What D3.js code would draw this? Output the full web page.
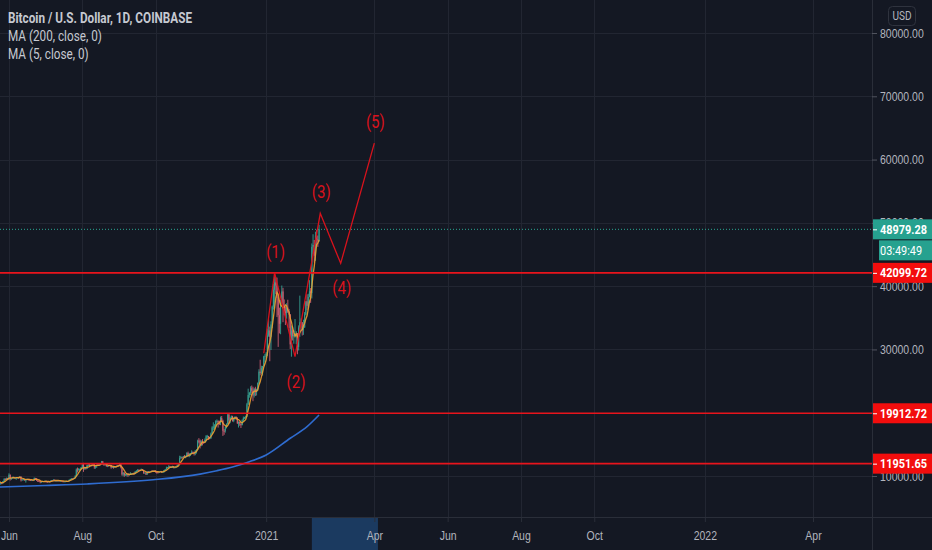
<!DOCTYPE html>
<html>
<head>
<meta charset="utf-8">
<style>
  html, body { margin: 0; padding: 0; background: #141823; overflow: hidden; }
  svg { display: block; font-family: Roboto, 'Open Sans', sans-serif; }
  .grid line { stroke: #222632; stroke-width: 1; }
  .axis text { fill: #b2b5be; font-size: 12.5px; }
  .legend text { fill: #c6c9d1; font-size: 14px; }
</style>
</head>
<body>
<svg id="chart" width="932" height="550"></svg>
<script src="https://d3js.org/d3.v7.min.js"></script>
<script>
// daily candles, values in thousands USD, first day 2020-05-24
const firstDay = "2020-05-24";
const firstOpen = 9.18;
const priorCloses = [9.52, 9.06, 9.17, 9.18];   // May 20-23, for the MA(5) start

const closes = [
  8.72, 8.90, 8.84, 9.20, 9.58, 9.42, 9.70, 9.45,
  10.20, 9.52, 9.67, 9.80, 9.65, 9.76, 9.78, 9.78, 9.77, 9.88, 9.32, 9.47, 9.48, 9.39, 9.45, 9.54, 9.46, 9.40, 9.31, 9.36, 9.29, 9.69, 9.63, 9.30, 9.25, 9.16, 9.00, 9.11, 9.19, 9.14,
  9.23, 9.09, 9.07, 9.13, 9.07, 9.34, 9.25, 9.43, 9.24, 9.28, 9.23, 9.30, 9.24, 9.25, 9.20, 9.13, 9.15, 9.17, 9.21, 9.16, 9.39, 9.54, 9.61, 9.55, 9.71, 9.93, 11.03, 10.92, 11.10, 11.11, 11.35,
  11.80, 11.07, 11.23, 11.19, 11.75, 11.77, 11.60, 11.75, 11.68, 11.88, 11.39, 11.56, 11.78, 11.77, 11.86, 11.91, 12.30, 11.95, 11.75, 11.86, 11.52, 11.66, 11.65, 11.75, 11.33, 11.46, 11.32, 11.54, 11.50, 11.71, 11.68,
  11.97, 11.41, 10.25, 10.51, 10.17, 10.28, 10.37, 10.13, 10.24, 10.36, 10.40, 10.44, 10.33, 10.68, 10.79, 10.96, 10.95, 10.94, 11.09, 10.92, 10.42, 10.54, 10.24, 10.74, 10.69, 10.73, 10.77, 10.71, 10.84, 10.78,
  10.62, 10.57, 10.55, 10.67, 10.79, 10.60, 10.67, 10.92, 11.06, 11.30, 11.38, 11.54, 11.43, 11.43, 11.50, 11.32, 11.36, 11.50, 11.74, 11.92, 12.82, 12.97, 12.93, 13.11, 13.03, 13.07, 13.64, 13.27, 13.46, 13.56, 13.80,
  13.76, 13.55, 14.02, 14.14, 15.59, 15.58, 14.83, 15.48, 15.33, 15.31, 15.70, 16.28, 16.32, 16.07, 15.96, 16.72, 17.66, 17.80, 17.82, 18.67, 18.71, 18.42, 18.37, 19.16, 18.73, 17.15, 17.14, 17.72, 18.18, 19.70,
  18.79, 19.20, 19.45, 18.70, 19.15, 19.36, 19.17, 18.32, 18.55, 18.26, 18.04, 18.81, 19.17, 19.27, 19.43, 21.33, 22.80, 23.14, 23.87, 23.47, 22.72, 23.81, 23.23, 23.73, 24.71, 26.49, 26.28, 27.08, 27.36, 28.90, 29.00,
  29.37, 32.20, 33.00, 31.99, 33.95, 36.77, 39.43, 40.58, 40.09, 38.15, 35.40, 34.05, 37.37, 39.16, 36.80, 36.00, 35.80, 36.60, 35.90, 35.50, 30.80, 33.00, 32.07, 32.28, 32.37, 32.57, 30.40, 33.47, 34.30, 34.30, 33.10,
  33.50, 35.50, 37.60, 36.90, 38.30, 39.20, 38.90, 46.20, 46.50, 44.80, 48.00, 47.40, 47.20, 48.98
];
const highs = [
  9.31, 8.97, 9.01, 9.22, 9.62, 9.60, 9.74, 9.70,
  10.43, 10.23, 9.69, 9.88, 9.85, 9.79, 9.80, 9.80, 9.86, 9.98, 9.95, 9.55, 9.51, 9.50, 9.50, 9.58, 9.55, 9.49, 9.43, 9.40, 9.42, 9.77, 9.70, 9.67, 9.33, 9.30, 9.20, 9.17, 9.23, 9.20,
  9.30, 9.26, 9.13, 9.18, 9.14, 9.37, 9.36, 9.46, 9.44, 9.32, 9.29, 9.34, 9.33, 9.29, 9.27, 9.20, 9.18, 9.19, 9.23, 9.22, 9.42, 9.57, 9.65, 9.63, 9.73, 10.12, 11.20, 11.34, 11.25, 11.17, 11.42,
  11.86, 12.08, 11.47, 11.41, 11.79, 11.90, 11.92, 11.80, 11.80, 12.05, 11.94, 11.60, 11.80, 12.06, 11.97, 11.93, 12.38, 12.38, 12.00, 11.88, 11.88, 11.67, 11.70, 11.82, 11.75, 11.51, 11.60, 11.56, 11.58, 11.71, 11.76,
  12.07, 11.98, 11.47, 10.64, 10.56, 10.34, 10.39, 10.43, 10.35, 10.60, 10.41, 10.48, 10.58, 10.78, 10.93, 11.09, 11.05, 11.03, 11.18, 11.09, 10.99, 10.58, 10.54, 10.77, 10.76, 10.77, 10.80, 10.94, 10.86, 10.86,
  10.93, 10.63, 10.60, 10.69, 10.80, 10.80, 10.68, 10.95, 11.10, 11.48, 11.43, 11.72, 11.56, 11.55, 11.62, 11.55, 11.42, 11.52, 11.82, 12.01, 13.20, 13.18, 13.02, 13.16, 13.33, 13.23, 13.77, 13.85, 13.64, 13.65, 14.06,
  13.87, 13.83, 14.07, 14.25, 15.74, 15.98, 15.77, 15.65, 15.84, 15.48, 15.94, 16.47, 16.50, 16.34, 16.17, 16.88, 17.86, 18.48, 18.18, 18.81, 18.95, 18.78, 18.75, 19.40, 19.48, 18.90, 17.43, 17.86, 18.32, 19.86,
  19.92, 19.30, 19.56, 19.52, 19.18, 19.41, 19.40, 19.29, 18.63, 18.59, 18.29, 18.95, 19.40, 19.35, 19.55, 21.56, 23.80, 23.29, 24.17, 24.30, 24.10, 23.85, 24.10, 23.80, 24.79, 26.87, 28.37, 27.42, 27.40, 29.00, 29.30,
  29.60, 33.30, 34.79, 33.60, 34.44, 36.94, 40.36, 41.95, 41.40, 41.35, 38.28, 36.60, 37.85, 40.10, 39.73, 37.90, 36.80, 37.30, 37.85, 36.40, 35.60, 33.80, 33.60, 33.00, 34.80, 32.90, 32.60, 33.80, 38.50, 34.90, 34.30,
  34.70, 35.90, 37.66, 38.70, 38.80, 40.95, 39.70, 46.75, 48.20, 47.30, 48.60, 48.90, 48.00, 49.70
];
const lows = [
  8.70, 8.64, 8.70, 8.84, 9.11, 9.34, 9.37, 9.42,
  9.42, 9.28, 9.40, 9.54, 9.59, 9.60, 9.40, 9.63, 9.57, 9.69, 9.13, 9.27, 9.35, 9.25, 8.96, 9.37, 9.27, 9.30, 9.21, 9.22, 9.27, 9.28, 9.57, 9.21, 9.05, 9.04, 8.85, 8.97, 9.03, 9.07,
  9.11, 8.95, 9.04, 9.05, 8.97, 9.06, 9.20, 9.24, 9.16, 9.13, 9.20, 9.16, 9.20, 9.13, 9.16, 9.00, 9.09, 9.12, 9.11, 9.14, 9.15, 9.30, 9.48, 9.47, 9.52, 9.64, 9.89, 10.55, 10.84, 10.84, 10.98,
  11.23, 10.65, 11.00, 11.05, 11.12, 11.57, 11.40, 11.53, 11.52, 11.66, 11.13, 11.15, 11.28, 11.64, 11.66, 11.69, 11.85, 11.82, 11.60, 11.66, 11.49, 11.40, 11.52, 11.60, 11.15, 11.28, 11.15, 11.28, 11.45, 11.46, 11.59,
  11.65, 11.20, 10.05, 9.95, 9.88, 10.02, 9.93, 9.86, 10.11, 10.21, 10.20, 10.30, 10.20, 10.28, 10.65, 10.68, 10.75, 10.81, 10.92, 10.80, 10.37, 10.37, 10.15, 10.20, 10.54, 10.65, 10.63, 10.67, 10.65, 10.69,
  10.51, 10.38, 10.52, 10.55, 10.62, 10.53, 10.57, 10.53, 10.81, 11.05, 11.26, 11.25, 11.30, 11.26, 11.28, 11.20, 11.30, 11.34, 11.40, 11.68, 11.88, 12.70, 12.73, 12.88, 12.90, 12.80, 13.04, 13.05, 12.97, 13.15, 13.45,
  13.65, 13.23, 13.28, 13.54, 14.09, 15.17, 14.35, 14.71, 14.83, 15.08, 15.28, 15.44, 15.97, 15.71, 15.80, 15.87, 16.56, 17.24, 17.37, 17.76, 18.30, 17.65, 18.05, 18.03, 18.55, 16.33, 16.51, 16.86, 17.51, 18.17,
  18.19, 18.35, 18.92, 18.59, 18.50, 18.93, 18.93, 18.24, 17.66, 17.93, 17.58, 18.00, 18.71, 19.00, 19.07, 19.28, 21.23, 22.37, 22.77, 23.06, 21.82, 22.40, 22.65, 22.72, 23.45, 24.53, 25.90, 26.10, 25.88, 27.32, 28.00,
  28.70, 28.95, 32.00, 28.13, 29.90, 33.36, 36.30, 36.50, 38.72, 35.11, 30.40, 32.53, 32.40, 36.70, 34.30, 35.40, 33.85, 34.85, 35.75, 33.40, 30.07, 28.85, 31.41, 30.90, 31.90, 30.83, 29.24, 29.83, 31.99, 32.86, 32.20,
  32.30, 33.40, 35.40, 36.20, 36.60, 38.20, 37.35, 38.05, 45.10, 43.70, 44.00, 46.30, 46.20, 47.00
];

// MA(200)
const ma200Dates = ["2020-05-24", "2020-07-01", "2020-08-05", "2020-09-29", "2020-11-07", "2020-11-21", "2020-12-04", "2020-12-18", "2021-01-01", "2021-01-21", "2021-02-04", "2021-02-14"];
const ma200Values = [8270, 8500, 8740, 9400, 10300, 10840, 11430, 12260, 13320, 15960, 17800, 19640];

// elliott wave drawing
const waveDates = ["2020-12-30", "2021-01-08", "2021-01-25", "2021-02-15", "2021-03-04", "2021-04-01"];
const waveValues = [29400, 42100, 28850, 51500, 43600, 62600];
const waveLabels = ["", "(1)", "(2)", "(3)", "(4)", "(5)"];

const levels = [42099.72, 19912.72, 11951.65];
const lastPrice = 48979.28;
const countdown = "03:49:49";

const priceTicks = [10000, 20000, 30000, 40000, 50000, 60000, 70000, 80000];
const timeTickDates = ["2020-06-01", "2020-08-01", "2020-10-01", "2021-01-01", "2021-04-01", "2021-06-01", "2021-08-01", "2021-10-01", "2022-01-01", "2022-04-01"];
const timeTickLabels = ["Jun", "Aug", "Oct", "2021", "Apr", "Jun", "Aug", "Oct", "2022", "Apr"];
const selectedRange = ["2021-02-08", "2021-04-04"];

const legendLines = ["Bitcoin / U.S. Dollar, 1D, COINBASE", "MA (200, close, 0)", "MA (5, close, 0)"];

const W = 932, H = 550;
const plotRight = 872, plotBottom = 517;
const squeezeK = 0.84;   // the screenshot's type is horizontally narrow

const svg = d3.select("#chart");
const parse = d3.utcParse("%Y-%m-%d");

// narrow a text horizontally around its x position
function squeeze(sel) {
  sel.each(function () {
    let t = d3.select(this);
    let tx = +t.attr("x") || 0;
    t.attr("x", 0).attr("transform", `translate(${tx},0) scale(${squeezeK},1)`);
  });
}

const x = d3.scaleUtc()
  .domain([parse("2020-06-01"), parse("2022-04-01")])
  .range([9, 813]);
const y = d3.scaleLinear()
  .domain([10000, 80000])
  .range([476, 33]);

// build candles
let candles = closes.map((c, i) => {
  let date = d3.utcDay.offset(parse(firstDay), i);
  let open = i == 0 ? firstOpen : closes[i - 1];
  return { date: date, open: open * 1000, close: c * 1000, high: highs[i] * 1000, low: lows[i] * 1000 };
});

// MA(5) of closes
let allCloses = priorCloses.concat(closes);
let ma5 = closes.map((c, i) => ({
  date: candles[i].date,
  value: d3.mean(allCloses.slice(i, i + 5)) * 1000
}));

let plot = svg.append("g");
plot.append("defs").append("clipPath").attr("id", "clip")
  .append("rect").attr("x", 0).attr("y", 0).attr("width", plotRight).attr("height", plotBottom);

// grid
let grid = plot.append("g").attr("class", "grid");
grid.selectAll(".hg").data(priceTicks).join("line")
  .attr("x1", 0).attr("x2", plotRight)
  .attr("y1", d => Math.round(y(d)) + 0.5).attr("y2", d => Math.round(y(d)) + 0.5);
grid.selectAll(".vg").data(timeTickDates).join("line")
  .attr("x1", d => Math.round(x(parse(d))) + 0.5).attr("x2", d => Math.round(x(parse(d))) + 0.5)
  .attr("y1", 0).attr("y2", plotBottom);

let inner = plot.append("g").attr("clip-path", "url(#clip)");

// MA200
let ma200 = ma200Dates.map((d, i) => ({ date: parse(d), value: ma200Values[i] }));
inner.append("path")
  .datum(ma200)
  .attr("d", d3.line().curve(d3.curveMonotoneX).x(d => x(d.date)).y(d => y(d.value)))
  .style("fill", "none")
  .style("stroke", "#2f6cd0")
  .style("stroke-width", 1.6);

// candles
let upColor = "#3aae9c", downColor = "#e0677a";
let cg = inner.append("g").style("opacity", 0.9);
cg.selectAll(".wick").data(candles).join("line")
  .attr("x1", d => x(d.date)).attr("x2", d => x(d.date))
  .attr("y1", d => y(d.high)).attr("y2", d => y(d.low))
  .style("stroke", d => d.close >= d.open ? upColor : downColor)
  .style("stroke-width", 0.9);
cg.selectAll(".body").data(candles).join("rect")
  .attr("x", d => x(d.date) - 0.55)
  .attr("width", 1.1)
  .attr("y", d => y(Math.max(d.open, d.close)))
  .attr("height", d => Math.max(1, Math.abs(y(d.open) - y(d.close))))
  .style("fill", d => d.close >= d.open ? upColor : downColor);

// MA5
inner.append("path")
  .datum(ma5)
  .attr("d", d3.line().x(d => x(d.date)).y(d => y(d.value)))
  .style("fill", "none")
  .style("stroke", "#f0a030")
  .style("stroke-width", 1.3)
  .style("opacity", 0.9);

// horizontal levels
inner.selectAll(".level").data(levels).join("line")
  .attr("x1", 0).attr("x2", plotRight)
  .attr("y1", d => y(d)).attr("y2", d => y(d))
  .style("stroke", "#e8141c")
  .style("stroke-width", 1.6);

// last price dotted line
inner.append("line")
  .attr("x1", 0).attr("x2", plotRight)
  .attr("y1", y(lastPrice)).attr("y2", y(lastPrice))
  .style("stroke", "#2aa894")
  .style("stroke-width", 1)
  .style("stroke-dasharray", "1,2");

// wave
let wave = waveDates.map((d, i) => ({ date: parse(d), value: waveValues[i], label: waveLabels[i] }));
inner.append("path")
  .datum(wave)
  .attr("d", d3.line().x(d => x(d.date)).y(d => y(d.value)))
  .style("fill", "none")
  .style("stroke", "#d8121c")
  .style("stroke-width", 1.3);
inner.selectAll(".wlab").data(wave.filter(d => d.label)).join("text")
  .attr("x", d => x(d.date) + 1)
  .attr("y", d => {
    // peaks get the label above, troughs below
    let j = wave.indexOf(d);
    let up = j == wave.length - 1 || d.value > wave[j + 1].value;
    return up ? y(d.value) - 15 : y(d.value) + 31;
  })
  .attr("text-anchor", "middle")
  .style("fill", "#d8121c")
  .style("font-size", "18px")
  .text(d => d.label)
  .call(squeeze);

// separators
svg.append("line").attr("x1", plotRight + 0.5).attr("x2", plotRight + 0.5).attr("y1", 0).attr("y2", H)
  .style("stroke", "#2a2e39");
svg.append("line").attr("x1", 0).attr("x2", W).attr("y1", plotBottom + 0.5).attr("y2", plotBottom + 0.5)
  .style("stroke", "#2a2e39");

// time axis selection highlight
svg.append("rect")
  .attr("x", x(parse(selectedRange[0])))
  .attr("width", x(parse(selectedRange[1])) - x(parse(selectedRange[0])))
  .attr("y", plotBottom + 1).attr("height", H - plotBottom - 1)
  .style("fill", "#1b3a60");

// time axis
let xAxis = d3.axisBottom(x)
  .tickValues(timeTickDates.map(parse))
  .tickFormat((d, i) => timeTickLabels[i])
  .tickSize(4)
  .tickPadding(9);
svg.append("g")
  .attr("class", "axis x")
  .attr("transform", `translate(0,${plotBottom + 1})`)
  .call(xAxis)
  .call(g => g.select(".domain").remove())
  .call(g => g.selectAll(".tick line").style("stroke", "#2a2e39"))
  .call(g => g.selectAll(".tick text").call(squeeze));

// price axis
let yAxis = d3.axisRight(y)
  .tickValues(priceTicks)
  .tickFormat(d3.format(".2f"))
  .tickSize(5)
  .tickPadding(3);
svg.append("g")
  .attr("class", "axis y")
  .attr("transform", `translate(${plotRight},0)`)
  .call(yAxis)
  .call(g => g.select(".domain").remove())
  .call(g => g.selectAll(".tick line").style("stroke", "#50535e"))
  .call(g => g.selectAll(".tick text").call(squeeze));

// price labels on the axis
function priceTag(v, text, fill, x0, dy) {
  let g = svg.append("g").attr("transform", `translate(0,${y(v) + dy})`);
  g.append("rect").attr("x", x0).attr("y", -10).attr("width", W - x0).attr("height", 20).style("fill", fill);
  if (dy == 0) {
    g.append("line").attr("x1", x0).attr("x2", x0 + 4).attr("y1", 0.5).attr("y2", 0.5).style("stroke", "#fff");
  }
  g.append("text").attr("x", 880).attr("y", 4.5)
    .style("fill", "#fff").style("font-size", "13px").style("font-weight", dy == 0 ? "bold" : "normal")
    .text(text)
    .call(squeeze);
}
levels.forEach(v => priceTag(v, d3.format(".2f")(v), "#f20d0d", plotRight + 1, 0));
priceTag(lastPrice, d3.format(".2f")(lastPrice), "#26a18f", plotRight + 1, 0);
priceTag(lastPrice, countdown, "#26a18f", 879, 21);

// USD badge
svg.append("rect").attr("x", 888.5).attr("y", 6.5).attr("width", 27).attr("height", 19).attr("rx", 4)
  .style("fill", "#141823").style("stroke", "#2f333e");
svg.append("text").attr("x", 902).attr("y", 20.5).attr("text-anchor", "middle")
  .style("fill", "#b2b5be").style("font-size", "12px").text("USD")
  .call(squeeze);

// legend
svg.append("g").attr("class", "legend")
  .selectAll("text").data(legendLines).join("text")
  .attr("x", 8)
  .attr("y", (d, i) => 23 + i * 18)
  .style("font-weight", (d, i) => i == 0 ? "bold" : "normal")
  .text(d => d)
  .call(squeeze);
</script>
</body>
</html>
